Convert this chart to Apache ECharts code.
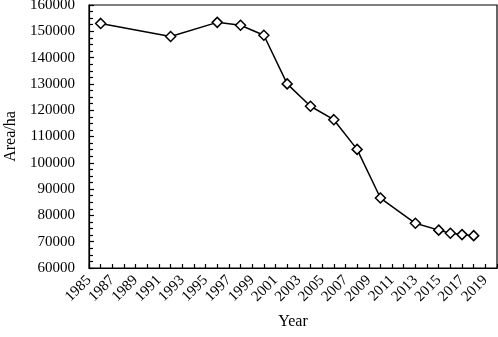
<!DOCTYPE html>
<html>
<head>
<meta charset="utf-8">
<script src="https://cdn.jsdelivr.net/npm/echarts@6/dist/echarts.min.js"></script>
<style>
  html, body { margin: 0; padding: 0; background: #fff; }
  #chart { width: 498px; height: 337px; }
</style>
</head>
<body>
<div id="chart"></div>
<script>
// values
const years = [1986, 1992, 1996, 1998, 2000, 2002, 2004, 2006, 2008, 2010, 2013, 2015, 2016, 2017, 2018]
const area = [153000, 148000, 153400, 152300, 148500, 130000, 121500, 116400, 105100, 86600, 77000, 74400, 73200, 72700, 72300]

const font = 'Liberation Serif'
const dom = echarts.init(document.getElementById('chart'))

dom.setOption({
  animation: false,
  textStyle: { fontFamily: font },
  grid: {
    left: 89,
    right: 1,
    top: 5,
    bottom: 69,
    outerBoundsMode: 'none',
    containLabel: false,
    show: true,
    borderColor: '#000',
    borderWidth: 1.2
  },
  xAxis: {
    type: 'value',
    min: 1985,
    max: 2020,
    interval: 2,
    name: 'Year',
    nameLocation: 'middle',
    nameGap: 46,
    nameTextStyle: { color: '#000', fontSize: 16, fontFamily: font },
    splitLine: { show: false },
    axisLine: { lineStyle: { color: '#000', width: 1.2 } },
    axisTick: { inside: true, length: 4, lineStyle: { color: '#000', width: 1.2 } },
    minorTick: { show: true, splitNumber: 2, length: 4, lineStyle: { color: '#000', width: 1.2 } },
    axisLabel: {
      rotate: 45,
      color: '#000',
      fontSize: 15,
      fontFamily: font,
      margin: 10,
      showMaxLabel: false,
      formatter: v => String(v)
    }
  },
  yAxis: {
    type: 'value',
    min: 60000,
    max: 160000,
    interval: 10000,
    name: 'Area/ha',
    nameLocation: 'middle',
    nameGap: 66,
    nameTextStyle: { color: '#000', fontSize: 16, fontFamily: font },
    splitLine: { show: false },
    axisLine: { show: true, lineStyle: { color: '#000', width: 1.2 } },
    axisTick: { show: true, inside: true, length: 5, lineStyle: { color: '#000', width: 1.2 } },
    minorTick: { show: true, splitNumber: 4, length: 4, lineStyle: { color: '#000', width: 1.2 } },
    axisLabel: { color: '#000', fontSize: 15, fontFamily: font, margin: 14, formatter: v => String(v) }
  },
  series: [
    {
      type: 'line',
      data: years.map((y, i) => [y, area[i]]),
      symbol: 'diamond',
      symbolSize: 10,
      lineStyle: { color: '#000', width: 1.5 },
      itemStyle: { color: '#fff', borderColor: '#000', borderWidth: 1.5 }
    }
  ]
})
</script>
</body>
</html>
